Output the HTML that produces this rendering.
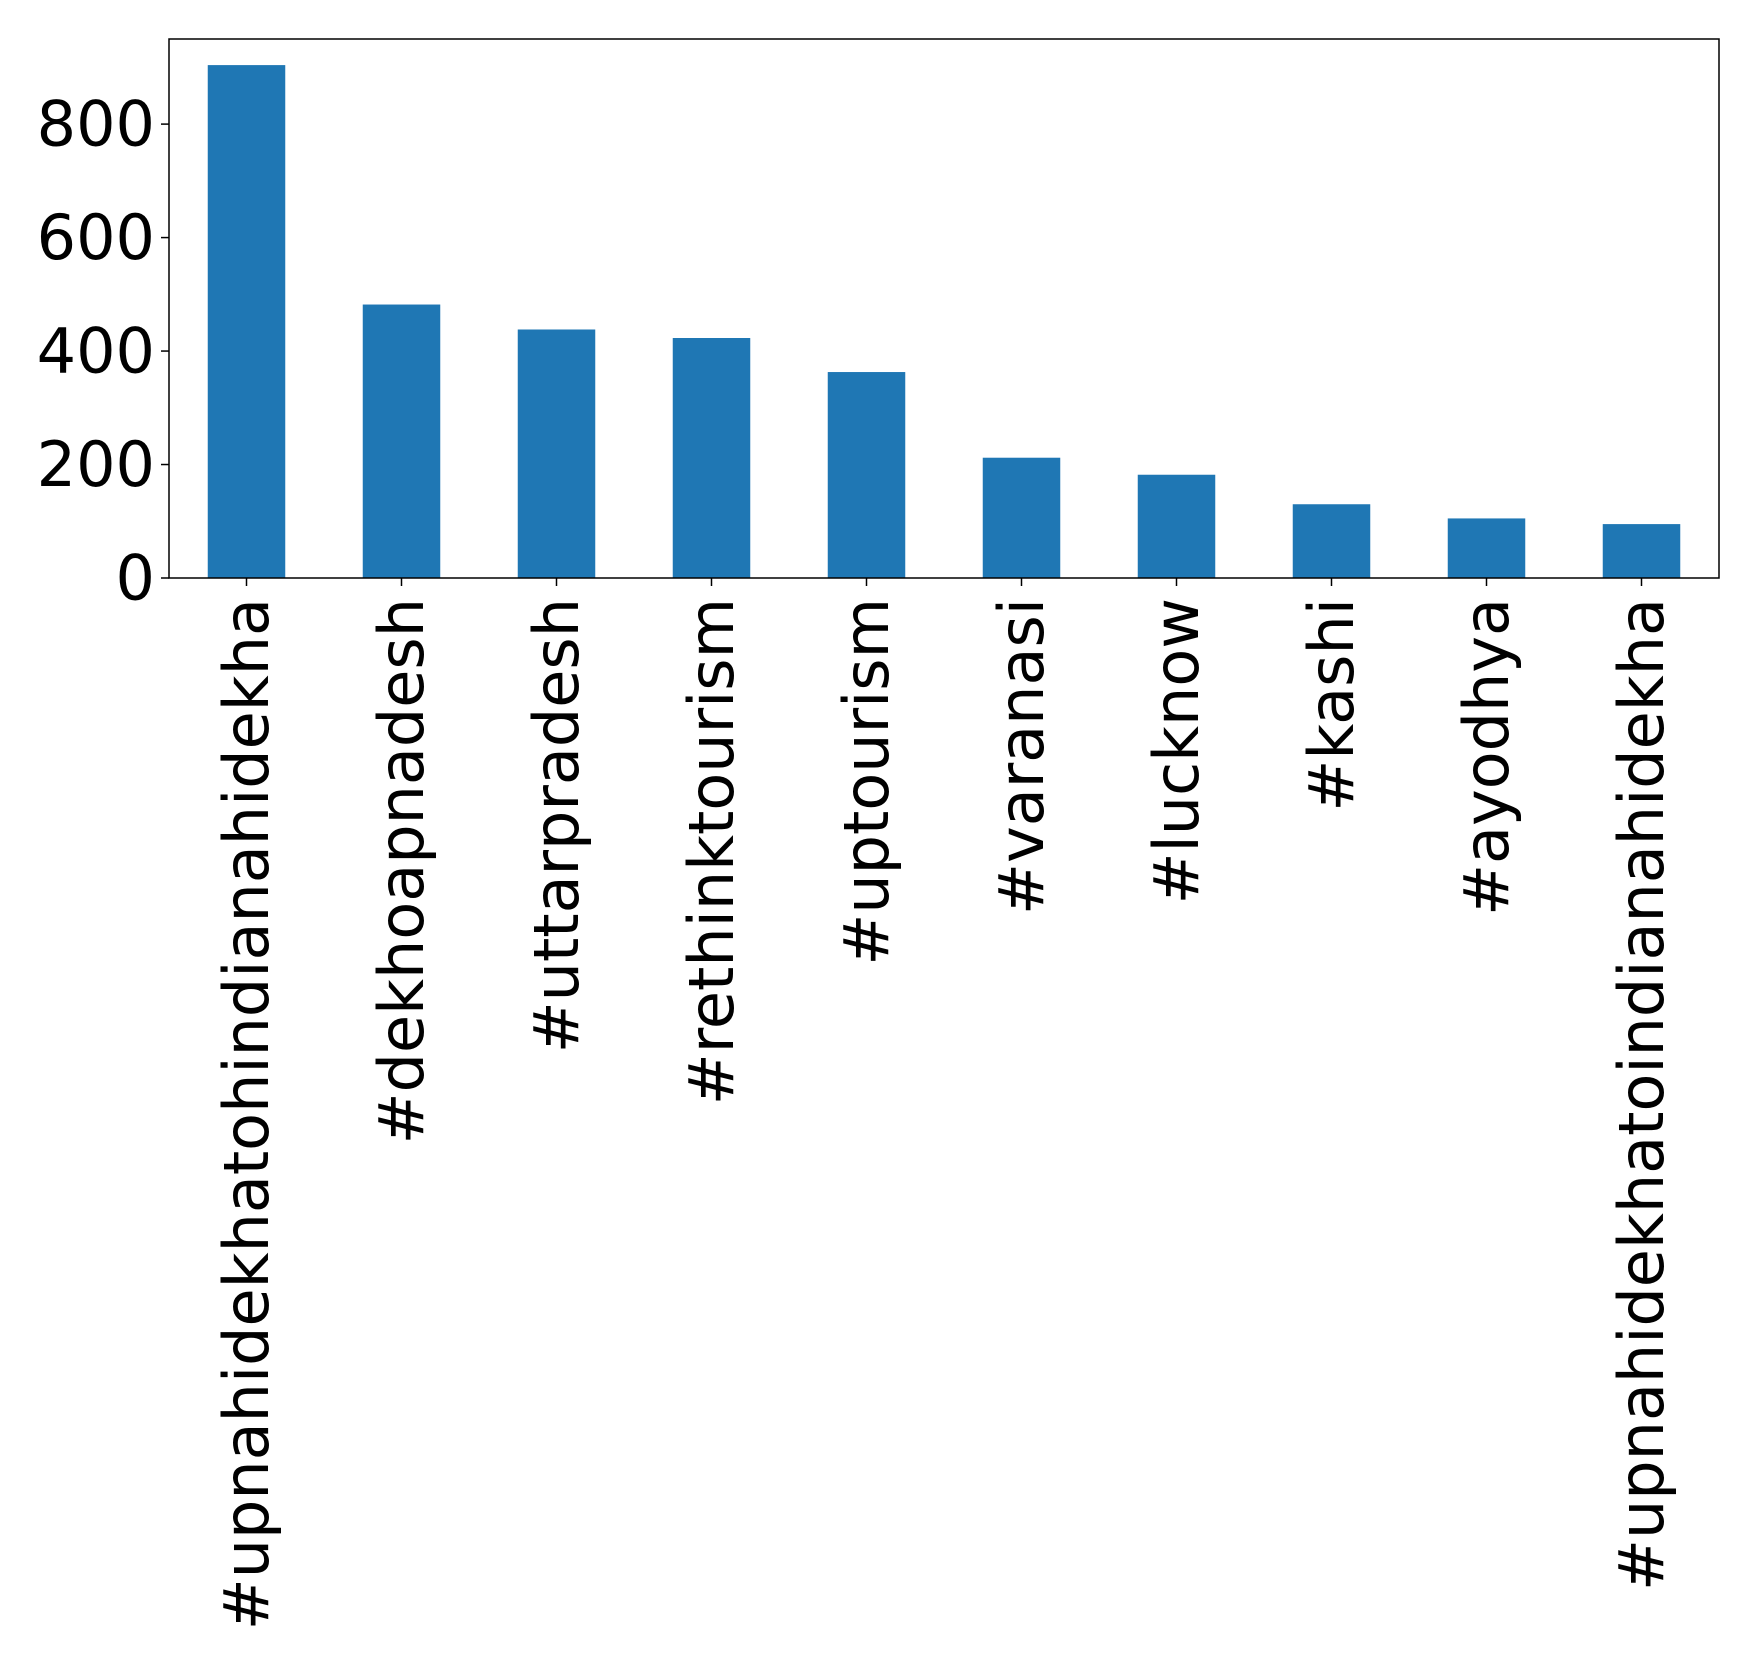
<!DOCTYPE html>
<html><head><meta charset="utf-8"><style>body{margin:0;background:#fff}svg{display:block}</style></head>
<body>
<svg id="chart" width="1758" height="1667" xmlns="http://www.w3.org/2000/svg" font-family="DejaVu Sans, Liberation Sans, sans-serif"></svg>
<script>
const categories = ["#upnahidekhatohindianahidekha","#dekhoapnadesh","#uttarpradesh","#rethinktourism","#uptourism","#varanasi","#lucknow","#kashi","#ayodhya","#upnahidekhatoindianahidekha"];
const values = [904, 482, 438, 423, 363, 212, 182, 130, 105, 95];
const yTicks = [0, 200, 400, 600, 800];
const NS = "http://www.w3.org/2000/svg";
const svg = document.getElementById('chart');
const L = 169, R = 1719, T = 39, B = 578, YMAX = 950;
const step = (R - L) / categories.length;
function xPos(i){ return L + step * (i + 0.5); }
function yPos(v){ return B - (B - T) * v / YMAX; }
function mk(tag, attrs){ const e = document.createElementNS(NS, tag); for (const k in attrs) e.setAttribute(k, attrs[k]); svg.appendChild(e); return e; }
categories.forEach((c, i) => {
  const bw = step * 0.5;
  const r = mk('rect', {x: xPos(i) - bw/2, y: yPos(values[i]), width: bw, height: B - yPos(values[i]), fill: '#1f77b4'});
  
  
  const tk = mk('line', {x1: xPos(i), x2: xPos(i), y1: B, y2: B + 8, stroke: '#000', 'stroke-width': 1.5});
  
  
  const t = mk('text', {transform: `translate(${xPos(i)},${B + 20}) rotate(-90)`, 'text-anchor': 'end', 'dominant-baseline': 'central', 'font-size': 62, fill: '#000'});
  t.textContent = c;
  
  
});
yTicks.forEach(v => {
  const tk = mk('line', {x1: L - 8, x2: L, y1: yPos(v), y2: yPos(v), stroke: '#000', 'stroke-width': 1.5});
  
  
  const t = mk('text', {x: L - 14, y: yPos(v), 'text-anchor': 'end', 'dominant-baseline': 'central', 'font-size': 62, fill: '#000'});
  t.textContent = v;
  
  
});
const frame = mk('rect', {x: L, y: T, width: R - L, height: B - T, fill: 'none', stroke: '#000', 'stroke-width': 1.5});


</script>
</body></html>
